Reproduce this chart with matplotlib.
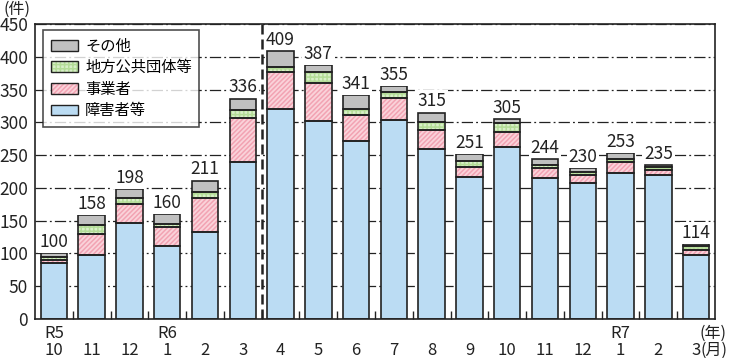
import matplotlib
matplotlib.use("Agg")
import matplotlib.pyplot as plt
from matplotlib.patches import Patch
import numpy as np

plt.rcParams['font.family'] = ['Noto Sans CJK JP', 'DejaVu Sans']
plt.rcParams['hatch.linewidth'] = 1.1

months = ["10", "11", "12", "1", "2", "3", "4", "5", "6", "7", "8", "9", "10", "11", "12", "1", "2", "3"]
years = {0: "R5", 3: "R6", 15: "R7"}
shogaisha = [85, 98, 147, 112, 133, 240, 320, 302, 272, 304, 260, 216, 262, 215, 208, 223, 220, 98]
jigyosha = [5, 31, 28, 29, 52, 67, 57, 58, 39, 33, 29, 16, 24, 15, 12, 16, 8, 8]
chiho = [4, 14, 9, 4, 9, 12, 8, 17, 9, 9, 12, 9, 13, 5, 5, 5, 4, 6]
sonota = [6, 15, 14, 15, 17, 17, 24, 10, 21, 9, 14, 10, 6, 9, 5, 9, 3, 2]
totals = [100, 158, 198, 160, 211, 336, 409, 387, 341, 355, 315, 251, 305, 244, 230, 253, 235, 114]
series_names = ["障害者等", "事業者", "地方公共団体等", "その他"]

fig = plt.figure(figsize=(7.31, 3.58), dpi=100)
ax = fig.add_axes([35/731, 1-319/358, 680/731, 295/358])

x = np.arange(len(months))
w = 0.7
styles = [
    dict(fc="#BBDCF3", hatch=None, hc=None),
    dict(fc="#FAD3DA", hatch="///////", hc="#F2A3B3"),
    dict(fc="#D8EFC8", hatch="++++", hc="#B4DC98"),
    dict(fc="#C0C0C0", hatch=None, hc=None),
]
data = [shogaisha, jigyosha, chiho, sonota]
bottom = np.zeros(len(months))
for vals, st in zip(data, styles):
    vals = np.array(vals, dtype=float)
    if st["hatch"]:
        ax.bar(x, vals, w, bottom=bottom, color=st["fc"], edgecolor=st["hc"],
               hatch=st["hatch"], linewidth=0, zorder=2)
    else:
        ax.bar(x, vals, w, bottom=bottom, color=st["fc"], linewidth=0, zorder=2)
    ax.bar(x, vals, w, bottom=bottom, fill=False, edgecolor="#222222", linewidth=1.2, zorder=3)
    bottom += vals

for xi, t in zip(x, totals):
    ax.text(xi, t + 3.5, str(t), ha="center", va="bottom", fontsize=12.5, color="#222222",
            zorder=4, bbox=dict(boxstyle="square,pad=0.1", fc="white", ec="none"))

ax.set_xlim(-0.5, len(months) - 0.5)
ax.set_ylim(0, 450)
ax.set_yticks(np.arange(0, 451, 50))
ax.tick_params(axis="y", length=0, pad=5, labelsize=12.5, colors="#222222")
for yv in np.arange(50, 451, 50):
    ax.axhline(yv, color="#222222", lw=0.9, linestyle=(0, (9, 2.5, 1.5, 2.5)), zorder=1)

ax.set_xticks(np.arange(0.5, len(months) - 1, 1))
ax.set_xticklabels([])
ax.tick_params(axis="x", direction="in", length=6, width=1, color="#222222")
for s in ax.spines.values():
    s.set_linewidth(1.2)
    s.set_color("#222222")

ax.axvline(5.5, color="#222222", lw=1.8, linestyle=(0, (4, 2)), zorder=5)

trans = ax.get_xaxis_transform()
y_month = -(350.5 - 319) / 295
y_year = -(333 - 319) / 295
for xi, m in zip(x, months):
    ax.text(xi, y_month, m, transform=trans, ha="center", va="center", fontsize=12, color="#222222")
for xi, yname in years.items():
    ax.text(xi, y_year, yname, transform=trans, ha="center", va="center", fontsize=12, color="#222222")
fig.text(713/731, 1-333/358, "(年)", ha="center", va="center", fontsize=11.5, color="#222222")
fig.text(714/731, 1-350/358, "(月)", ha="center", va="center", fontsize=11.5, color="#222222")
fig.text(17/731, 1-9/358, "(件)", ha="center", va="center", fontsize=11.5, color="#222222")

# legend
handles = []
order = [3, 2, 1, 0]
for i in order:
    st = styles[i]
    if st["hatch"]:
        fillp = Patch(facecolor=st["fc"], edgecolor=st["hc"], hatch=st["hatch"], linewidth=0)
    else:
        fillp = Patch(facecolor=st["fc"], edgecolor="none", linewidth=0)
    outp = Patch(facecolor="none", edgecolor="#222222", linewidth=1.0)
    handles.append((fillp, outp))
leg = ax.legend(handles, [series_names[i] for i in order], loc="upper left",
                bbox_to_anchor=(8/680, 1 - 6/295), fontsize=11, frameon=True, fancybox=False,
                edgecolor="#222222", handlelength=1.8, handleheight=0.72, borderpad=0.5,
                labelspacing=0.3, handletextpad=0.45, borderaxespad=0)
leg.get_frame().set_linewidth(1.2)
leg.set_zorder(6)

fig.savefig("out.png", dpi=100)
